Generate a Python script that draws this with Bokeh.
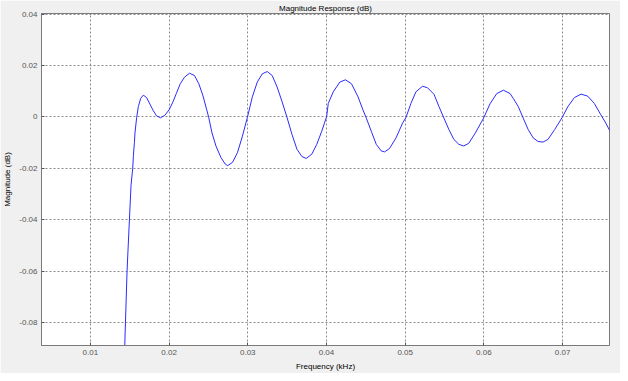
from bokeh.plotting import figure
from bokeh.models import Range1d, FixedTicker, CustomJSTickFormatter
from bokeh.embed import file_html
from bokeh.resources import INLINE

# Frequency (kHz) and magnitude (dB)
freq_khz = [
    0.014345, 0.014370, 0.014458, 0.014660, 0.014962, 0.015164, 0.015378, 0.015466,
    0.015592, 0.015668, 0.015882, 0.016096, 0.016385, 0.016725, 0.017141, 0.017557,
    0.017985, 0.018401, 0.018904, 0.019446, 0.020000, 0.020504, 0.020919, 0.021423,
    0.021965, 0.022594, 0.023224, 0.023778, 0.024282, 0.024786, 0.025038, 0.025453,
    0.025957, 0.026587, 0.027128, 0.027431, 0.028060, 0.028690, 0.029320, 0.029950,
    0.030579, 0.031209, 0.031839, 0.032469, 0.033098, 0.033728, 0.034358, 0.034987,
    0.035617, 0.036247, 0.036877, 0.037418, 0.038136, 0.038766, 0.039395, 0.040025,
    0.040227, 0.040856, 0.041700, 0.042418, 0.043174, 0.044005, 0.044635, 0.045063,
    0.045693, 0.046322, 0.046952, 0.047368, 0.047997, 0.048841, 0.049673, 0.050101,
    0.050730, 0.051360, 0.052191, 0.052821, 0.053665, 0.054295, 0.054924, 0.055554,
    0.056184, 0.056814, 0.057443, 0.058073, 0.058917, 0.059962, 0.060806, 0.061637,
    0.062481, 0.063325, 0.063741, 0.064370, 0.065000, 0.065630, 0.066259, 0.066889,
    0.067519, 0.068149, 0.068992, 0.069950, 0.070668, 0.071511, 0.072343, 0.073186,
    0.074030, 0.074861, 0.075491, 0.075919, 0.076340,
]
mag_db = [
    -0.0916, -0.08883, -0.07988, -0.05998, -0.03986, -0.02659, -0.02008, -0.01511,
    -0.01002, -0.00620, -0.00020, 0.00402, 0.00719, 0.00849, 0.00757, 0.00505,
    0.00249, 0.00046, -0.00031, 0.00057, 0.00275, 0.00593, 0.00910, 0.01293,
    0.01549, 0.01702, 0.01614, 0.01293, 0.00849, 0.00275, -0.00019, -0.00620,
    -0.01129, -0.01576, -0.01829, -0.01894, -0.01767, -0.01385, -0.00746, -0.00019,
    0.00784, 0.01358, 0.01676, 0.01767, 0.01614, 0.01167, 0.00593, -0.00019,
    -0.00681, -0.01255, -0.01538, -0.01614, -0.01446, -0.01064, -0.00555, 0.00019,
    0.00528, 0.00976, 0.01358, 0.01446, 0.01293, 0.00784, 0.00275, -0.00046,
    -0.00555, -0.01064, -0.01320, -0.01358, -0.01232, -0.00811, -0.00237, -0.00019,
    0.00528, 0.00976, 0.01194, 0.01140, 0.00880, 0.00402, -0.00046, -0.00490,
    -0.00872, -0.01064, -0.01129, -0.01025, -0.00620, -0.00046, 0.00528, 0.00910,
    0.01041, 0.00910, 0.00719, 0.00402, -0.00046, -0.00490, -0.00811, -0.00956,
    -0.00976, -0.00872, -0.00490, -0.00019, 0.00402, 0.00757, 0.00888, 0.00811,
    0.00528, 0.00084, -0.00237, -0.00490, -0.0071,
]
x_ticks = [0.01, 0.02, 0.03, 0.04, 0.05, 0.06, 0.07]
y_ticks = [-0.08, -0.06, -0.04, -0.02, 0.0, 0.02, 0.04]

FONT = "Liberation Sans"

p = figure(width=620, height=373, output_backend="svg", toolbar_location=None,
           x_range=Range1d(0.00379, 0.07596), y_range=Range1d(-0.0889, 0.04025),
           title="Magnitude Response (dB)",
           min_border_left=30, min_border_right=11, min_border_top=4, min_border_bottom=10)

p.border_fill_color = "#f0f0f0"
p.background_fill_color = "white"
p.outline_line_color = "#7a7a7a"
p.outline_line_width = 1

p.title.align = "center"
p.title.text_font = FONT
p.title.text_font_size = "8px"
p.title.text_font_style = "normal"
p.title.text_color = "#000000"
p.title.standoff = 2

p.line(freq_khz, mag_db, line_color="#2b2bff", line_width=1)

for ax in (p.xaxis[0], p.yaxis[0]):
    ax.major_label_text_font = FONT
    ax.major_label_text_font_size = "8px"
    ax.major_label_text_color = "#555555"
    ax.axis_label_text_font = FONT
    ax.axis_label_text_font_size = "8px"
    ax.axis_label_text_font_style = "normal"
    ax.axis_label_text_color = "#000000"
    ax.axis_line_color = "#7a7a7a"
    ax.major_tick_line_color = "#555555"
    ax.major_tick_in = 3
    ax.major_tick_out = 0
    ax.minor_tick_line_color = None
    ax.axis_label_standoff = 4
    ax.major_label_standoff = 4

p.xaxis.ticker = FixedTicker(ticks=x_ticks)
p.yaxis.ticker = FixedTicker(ticks=y_ticks)
fmt = CustomJSTickFormatter(code="return Math.abs(tick) < 1e-9 ? '0' : tick.toFixed(2);")
p.xaxis.formatter = fmt
p.yaxis.formatter = fmt
p.xaxis.axis_label = "Frequency (kHz)"
p.yaxis.axis_label = "Magnitude (dB)"

for g in (p.xgrid[0], p.ygrid[0]):
    g.grid_line_color = "#8a8a8a"
    g.grid_line_dash = "2 2"
    g.grid_line_width = 1

open("out.html", "w").write(file_html(p, INLINE))
